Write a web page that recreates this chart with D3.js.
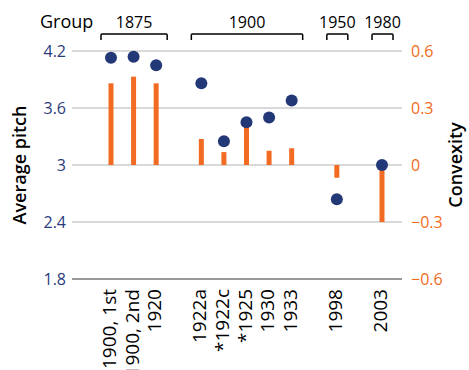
<!DOCTYPE html>
<html>
<head>
  <meta charset="utf-8">
  <style>
    body { margin: 0; background: #fff; }
    text { font-family: "Open Sans", sans-serif; }
    .grid line { stroke: #cccccc; stroke-width: 1.5; }
    .base { stroke: #999999; stroke-width: 2; }
    .bar { fill: #f36b23; }
    .dot { fill: #233876; }
    .bracket { fill: none; stroke: #000; stroke-width: 1.5; }
  </style>
  <script src="https://d3js.org/d3.v7.min.js"></script>
</head>
<body>
<script>
  var categories = ["1900, 1st", "1900, 2nd", "1920", "1922a", "*1922c", "*1925", "1930", "1933", "1998", "2003"];
  var groupOf = ["1875", "1875", "1875", "1900", "1900", "1900", "1900", "1900", "1950", "1980"];
  var pitch = [4.13, 4.14, 4.05, 3.86, 3.25, 3.45, 3.50, 3.68, 2.64, 3.0];
  var convexity = [0.43, 0.465, 0.43, 0.137, 0.068, 0.20, 0.075, 0.088, -0.067, -0.30];
  var leftTicks = [1.8, 2.4, 3, 3.6, 4.2];
  var rightTicks = [-0.6, -0.3, 0, 0.3, 0.6];

  var width = 469, height = 370;
  var plotLeft = 72, plotRight = 402, plotTop = 51, plotBottom = 279;

  // slots: categories with one empty slot between groups
  var slots = [];
  categories.forEach(function(c, i) {
    if (i > 0 && groupOf[i] !== groupOf[i - 1]) slots.push("gap" + i);
    slots.push(c);
  });

  var x = d3.scalePoint().domain(slots).range([111, 382]);
  var yL = d3.scaleLinear().domain([1.8, 4.2]).range([plotBottom, plotTop]);
  var yR = d3.scaleLinear().domain([-0.6, 0.6]).range([plotBottom, plotTop]);

  var svg = d3.select("body").append("svg")
    .attr("width", width).attr("height", height);

  // gridlines
  svg.append("g").attr("class", "grid")
    .selectAll("line").data(leftTicks.slice(1)).enter().append("line")
    .attr("x1", plotLeft).attr("x2", plotRight)
    .attr("y1", function(d) { return yL(d); })
    .attr("y2", function(d) { return yL(d); });
  svg.append("line").attr("class", "base")
    .attr("x1", plotLeft).attr("x2", plotRight)
    .attr("y1", yL(1.8)).attr("y2", yL(1.8));

  // left axis
  svg.append("g").attr("transform", "translate(" + (plotLeft - 6) + ",0)")
    .call(d3.axisLeft(yL).tickValues(leftTicks).tickSize(0).tickPadding(0).tickFormat(d3.format("")))
    .call(function(g) {
      g.select(".domain").remove();
      g.selectAll("text").attr("fill", "#2b3a7a").attr("font-size", 16).attr("font-family", "Open Sans, sans-serif");
    });

  // right axis
  svg.append("g").attr("transform", "translate(" + (plotRight + 9) + ",0)")
    .call(d3.axisRight(yR).tickValues(rightTicks).tickSize(0).tickPadding(0)
      .tickFormat(function(d) { return d < 0 ? "\u2212" + Math.abs(d) : String(d); }))
    .call(function(g) {
      g.select(".domain").remove();
      g.selectAll("text").attr("fill", "#f26b21").attr("font-size", 16).attr("font-family", "Open Sans, sans-serif");
    });

  // bars (convexity)
  svg.selectAll(".bar").data(categories).enter().append("rect")
    .attr("class", "bar")
    .attr("x", function(d) { return x(d) - 2.5; })
    .attr("width", 5)
    .attr("y", function(d, i) { return Math.min(yR(convexity[i]), yR(0)); })
    .attr("height", function(d, i) { return Math.abs(yR(convexity[i]) - yR(0)); });

  // dots (pitch)
  svg.selectAll(".dot").data(categories).enter().append("circle")
    .attr("class", "dot")
    .attr("cx", function(d) { return x(d); })
    .attr("cy", function(d, i) { return yL(pitch[i]); })
    .attr("r", 6);

  // category labels
  svg.selectAll(".cat").data(categories).enter().append("text")
    .attr("class", "cat")
    .attr("transform", function(d) { return "translate(" + (x(d) + 5) + "," + (plotBottom + 10) + ") rotate(-90)"; })
    .attr("text-anchor", "end")
    .attr("font-size", 19)
    .text(function(d) { return d; });

  // group brackets
  var groups = Array.from(new Set(groupOf));
  groups.forEach(function(gname) {
    var members = categories.filter(function(c, i) { return groupOf[i] === gname; });
    var x0 = x(members[0]) - 10, x1 = x(members[members.length - 1]) + 11;
    svg.append("path").attr("class", "bracket")
      .attr("d", "M" + x0 + ",40 V35 Q" + x0 + ",34 " + (x0 + 1) + ",34 H" + (x1 - 1) + " Q" + x1 + ",34 " + x1 + ",35 V40");
    svg.append("text")
      .attr("x", (x0 + x1) / 2).attr("y", 28)
      .attr("text-anchor", "middle").attr("font-size", 16)
      .text(gname);
  });
  svg.append("text").attr("x", 40).attr("y", 28)
    .attr("font-size", 18).text("Group");

  // axis titles
  svg.append("text")
    .attr("transform", "translate(26," + yL(3) + ") rotate(-90)")
    .attr("text-anchor", "middle").attr("font-size", 18).attr("font-weight", 600)
    .text("Average pitch");
  svg.append("text")
    .attr("transform", "translate(462," + yR(0) + ") rotate(-90)")
    .attr("text-anchor", "middle").attr("font-size", 18).attr("font-weight", 600)
    .text("Convexity");
</script>
</body>
</html>
